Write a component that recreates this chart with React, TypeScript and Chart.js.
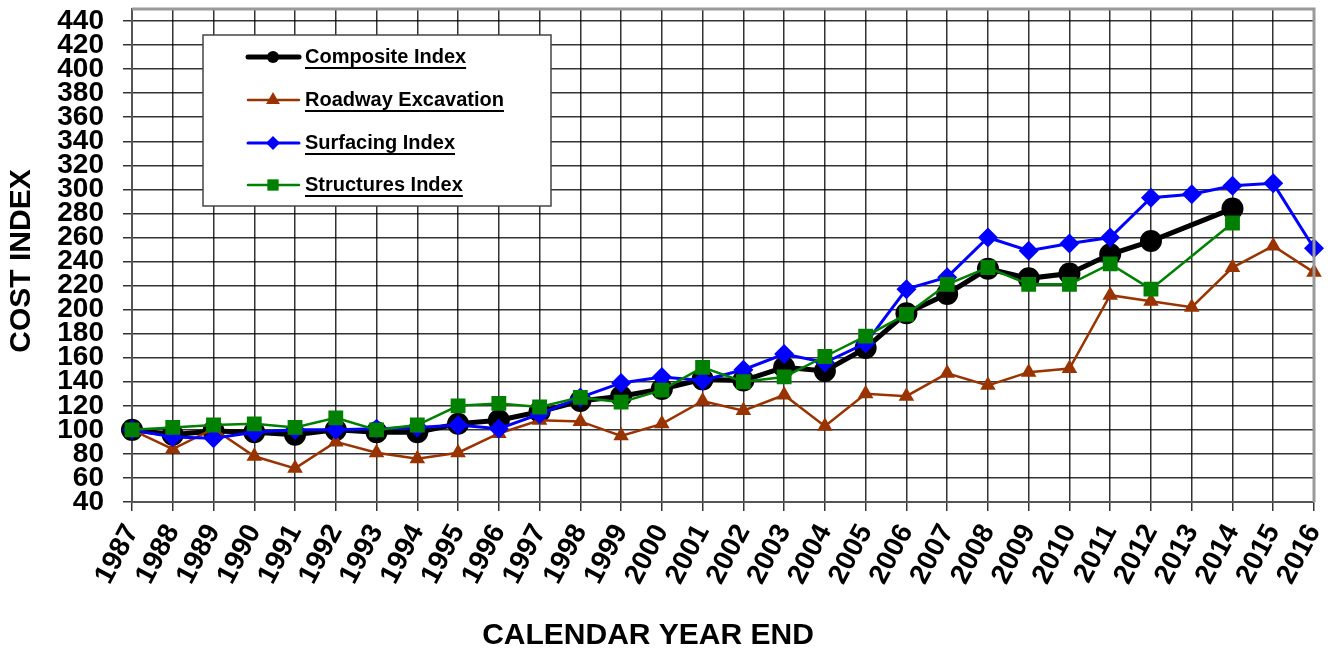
import React, { useEffect, useRef } from "react";
import { Chart, registerables } from "chart.js";

Chart.register(...registerables);

const years = [
  "1987", "1988", "1989", "1990", "1991", "1992", "1993", "1994", "1995", "1996",
  "1997", "1998", "1999", "2000", "2001", "2002", "2003", "2004", "2005", "2006",
  "2007", "2008", "2009", "2010", "2011", "2012", "2013", "2014", "2015", "2016",
];

const composite = [
  100, 96, 99, 98, 96, 100, 98, 98, 105, 108, 115, 124, 128, 134, 142, 141, 152, 149, 168, 197,
  213, 234, 226, 230, 246, 257, null, 284, null, null,
];
const roadway = [
  100, 84, 101, 78, 68, 90, 81, 76, 81, 97, 108, 107, 95, 105, 124, 116, 129, 103, 130, 128,
  147, 137, 148, 151, 212, 207, 202, 235, 253, 231,
];
const surfacing = [
  100, 94, 93, 98, 100, 100, 101, 102, 104, 101, 113, 127, 139, 144, 141, 150, 163, 156, 172, 217,
  227, 260, 249, 255, 260, 293, 296, 303, 305, 251,
];
const structures = [
  100, 102, 104, 105, 102, 110, 100, 104, 120, 122, 119, 127, 123, 133, 152, 140, 144, 161, 178, 196,
  221, 235, 221, 221, 238, 217, null, 272, null, null,
];

const seriesNames = ["Composite Index", "Roadway Excavation", "Surfacing Index", "Structures Index"];
const seriesColors = ["#000000", "#993300", "#0000ff", "#008000"];

const FONT = "'Liberation Sans', Arial, Helvetica, sans-serif";

function drawMarker(ctx: CanvasRenderingContext2D, style: string, x: number, y: number, r: number) {
  ctx.beginPath();
  if (style === "circle") {
    ctx.arc(x, y, r, 0, Math.PI * 2);
  } else if (style === "triangle") {
    ctx.moveTo(x, y - r);
    ctx.lineTo(x + r * 0.866, y + r * 0.5);
    ctx.lineTo(x - r * 0.866, y + r * 0.5);
    ctx.closePath();
  } else if (style === "rectRot") {
    ctx.moveTo(x, y - r);
    ctx.lineTo(x + r, y);
    ctx.lineTo(x, y + r);
    ctx.lineTo(x - r, y);
    ctx.closePath();
  } else {
    const s = r * 0.707;
    ctx.rect(x - s, y - s, 2 * s, 2 * s);
  }
  ctx.fill();
}

const decorPlugin = {
  id: "decor",
  afterDraw(chart: any) {
    const ctx = chart.ctx;
    const area = chart.chartArea;
    ctx.save();
    // top & right frame
    ctx.strokeStyle = "#9a9a9a";
    ctx.lineWidth = 3;
    ctx.beginPath();
    ctx.moveTo(area.left, area.top);
    ctx.lineTo(area.right, area.top);
    ctx.lineTo(area.right, area.bottom);
    ctx.stroke();

    // axis titles
    ctx.fillStyle = "#000";
    ctx.font = `bold 30px ${FONT}`;
    ctx.textAlign = "center";
    ctx.textBaseline = "middle";
    ctx.fillText("CALENDAR YEAR END", 648, 636);
    ctx.save();
    ctx.translate(22, 261);
    ctx.rotate(-Math.PI / 2);
    ctx.fillText("COST INDEX", 0, 0);
    ctx.restore();

    // legend box
    const bx = 203, by = 35, bw = 348, bh = 171;
    ctx.fillStyle = "#fff";
    ctx.fillRect(bx, by, bw, bh);
    ctx.strokeStyle = "#444";
    ctx.lineWidth = 1.5;
    ctx.strokeRect(bx, by, bw, bh);

    const rows = [57, 100, 143, 185];
    const styles = ["circle", "triangle", "rectRot", "rect"];
    const lw = [5, 2.5, 3, 2.5];
    const rad = [6, 8, 7, 8];
    ctx.font = `bold 20px ${FONT}`;
    ctx.textAlign = "left";
    ctx.textBaseline = "middle";
    for (let i = 0; i < 4; i++) {
      const y = rows[i];
      ctx.strokeStyle = seriesColors[i];
      ctx.lineWidth = lw[i];
      ctx.lineCap = "round";
      ctx.beginPath();
      ctx.moveTo(248, y);
      ctx.lineTo(299, y);
      ctx.stroke();
      ctx.fillStyle = seriesColors[i];
      drawMarker(ctx, styles[i], 273, y, rad[i]);
      ctx.fillStyle = "#000";
      ctx.fillText(seriesNames[i], 305, y);
      const w = ctx.measureText(seriesNames[i]).width;
      ctx.strokeStyle = "#000";
      ctx.lineWidth = 2;
      ctx.lineCap = "butt";
      ctx.beginPath();
      ctx.moveTo(305, y + 11);
      ctx.lineTo(305 + w, y + 11);
      ctx.stroke();
    }
    ctx.restore();
  },
};

export default function App() {
  const ref = useRef<HTMLCanvasElement | null>(null);

  useEffect(() => {
    if (!ref.current) return;
    const chart = new Chart(ref.current, {
      type: "line",
      data: {
        labels: years,
        datasets: [
          {
            label: seriesNames[0],
            data: composite,
            borderColor: seriesColors[0],
            backgroundColor: seriesColors[0],
            borderWidth: 5,
            pointStyle: "circle",
            pointRadius: 11,
            pointBorderWidth: 0,
            spanGaps: true,
            order: 4,
          },
          {
            label: seriesNames[1],
            data: roadway,
            borderColor: seriesColors[1],
            backgroundColor: seriesColors[1],
            borderWidth: 2.5,
            pointStyle: "triangle",
            pointRadius: 9,
            pointBorderWidth: 0,
            spanGaps: true,
            order: 3,
          },
          {
            label: seriesNames[2],
            data: surfacing,
            borderColor: seriesColors[2],
            backgroundColor: seriesColors[2],
            borderWidth: 3,
            pointStyle: "rectRot",
            pointRadius: 10,
            pointBorderWidth: 0,
            spanGaps: true,
            order: 2,
          },
          {
            label: seriesNames[3],
            data: structures,
            borderColor: seriesColors[3],
            backgroundColor: seriesColors[3],
            borderWidth: 2.5,
            pointStyle: "rect",
            pointRadius: 10.5,
            pointBorderWidth: 0,
            spanGaps: true,
            order: 1,
          },
        ],
      },
      options: {
        responsive: false,
        animation: false,
        layout: { padding: { top: 9, right: 20, left: 0, bottom: 0 }, autoPadding: false },
        plugins: {
          legend: { display: false },
          tooltip: { enabled: false },
          title: { display: false },
        },
        elements: { line: { tension: 0 } },
        scales: {
          x: {
            type: "category",
            offset: false,
            afterFit: (s: any) => {
              s.height = 152;
              s.paddingLeft = 0;
              s.paddingRight = 0;
            },
            grid: {
              color: "rgba(0,0,0,0.8)",
              lineWidth: 1.5,
              tickLength: 9,
              drawTicks: true,
            },
            border: { color: "#555", width: 2 },
            ticks: {
              autoSkip: false,
              minRotation: 62,
              maxRotation: 62,
              padding: 8,
              color: "#000",
              font: { family: FONT, size: 28, weight: "bold" },
            },
          },
          y: {
            type: "linear",
            min: 40,
            max: 450,
            afterFit: (s: any) => {
              s.width = 132;
              s.paddingTop = 0;
              s.paddingBottom = 0;
            },
            grid: {
              color: "rgba(0,0,0,0.8)",
              lineWidth: 1.5,
              tickLength: 9,
            },
            border: { color: "#555", width: 2 },
            ticks: {
              autoSkip: false,
              stepSize: 20,
              includeBounds: false,
              padding: 19,
              color: "#000",
              font: { family: FONT, size: 28, weight: "bold", lineHeight: 1 },
            },
          },
        },
      },
      plugins: [decorPlugin],
    } as any);
    return () => chart.destroy();
  }, []);

  return (
    <div style={{ position: "fixed", left: 0, top: 0, width: 1334, height: 654, background: "#fff" }}>
      <canvas ref={ref} width={1334} height={654} style={{ width: 1334, height: 654 }} />
    </div>
  );
}
